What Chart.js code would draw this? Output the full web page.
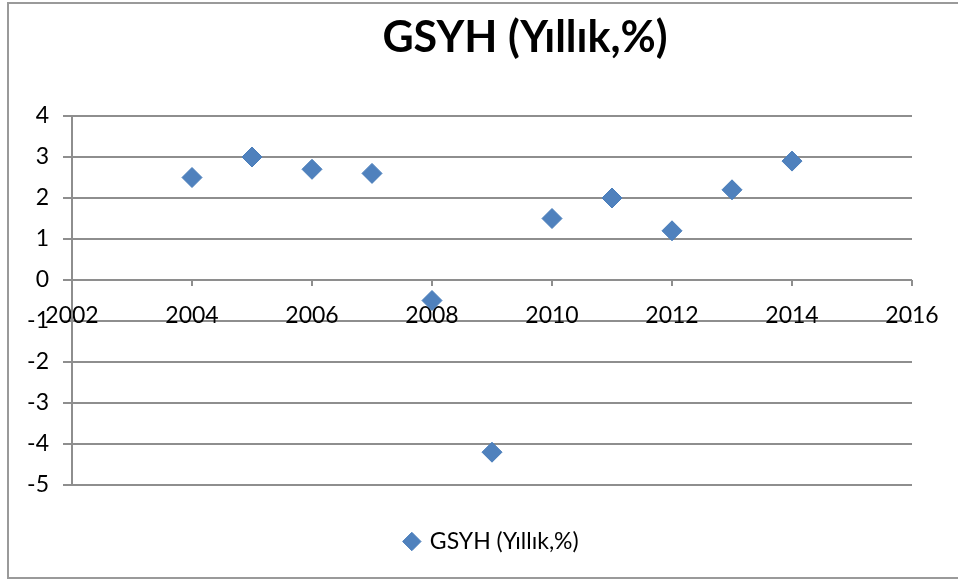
<!DOCTYPE html>
<html><head><meta charset="utf-8">
<script src="https://cdn.jsdelivr.net/npm/chart.js@4.4.1/dist/chart.umd.min.js"></script>
<style>html,body{margin:0;padding:0;background:#fff;}</style>
</head><body>
<canvas id="c" width="958" height="580"></canvas>
<script>
const chartTitle = 'GSYH (Yıllık,%)';
const seriesLabel = 'GSYH (Yıllık,%)';
const years = [2004, 2005, 2006, 2007, 2008, 2009, 2010, 2011, 2012, 2013, 2014];
const gdpGrowth = [2.5, 3.0, 2.7, 2.6, -0.5, -4.2, 1.5, 2.0, 1.2, 2.2, 2.9];
const xTickValues = [2002, 2004, 2006, 2008, 2010, 2012, 2014, 2016];
const yTickValues = [-5, -4, -3, -2, -1, 0, 1, 2, 3, 4];

const GRID = '#8e8e8e';
const FONT = 'Lato';

const framePlugin = {
  id: 'frameTitle',
  beforeDraw(chart) {
    const ctx = chart.ctx;
    ctx.save();
    ctx.fillStyle = '#fff';
    ctx.fillRect(0, 0, chart.width, chart.height);
    ctx.strokeStyle = '#9a9a9a';
    ctx.lineWidth = 2;
    ctx.strokeRect(8, 3, chart.width + 10, 575);
    ctx.restore();
  },
  afterDraw(chart) {
    const ctx = chart.ctx;
    ctx.save();
    ctx.fillStyle = '#000';
    ctx.font = 'bold 43px ' + FONT;
    ctx.textAlign = 'center';
    ctx.textBaseline = 'alphabetic';
    ctx.fillText(chartTitle, 525, 52);
    ctx.restore();
  }
};

new Chart(document.getElementById('c'), {
  type: 'scatter',
  data: {
    datasets: [{
      label: seriesLabel,
      data: years.map((y, i) => ({x: y, y: gdpGrowth[i]})),
      pointStyle: 'rectRot',
      pointRadius: 10,
      pointHoverRadius: 10,
      backgroundColor: '#4f81bd',
      borderColor: '#4a7ebb',
      borderWidth: 1
    }]
  },
  options: {
    responsive: false,
    animation: false,
    layout: { padding: { left: 0, right: 46, top: 116, bottom: 17 } },
    scales: {
      x: {
        type: 'linear',
        position: { y: 0 },
        min: 2002, max: 2016,
        afterBuildTicks(scale) { scale.ticks = xTickValues.map(v => ({value: v})); },
        ticks: {
          callback: v => String(v),
          color: '#000',
          font: { family: FONT, size: 23 },
          padding: 16,
          maxRotation: 0, autoSkip: false
        },
        grid: { drawOnChartArea: false, drawTicks: true, tickLength: 6, color: GRID, lineWidth: 2 },
        border: { display: false }
      },
      y: {
        type: 'linear',
        min: -5, max: 4,
        afterBuildTicks(scale) { scale.ticks = yTickValues.map(v => ({value: v})); },
        afterFit(scale) { scale.width = 72; },
        ticks: {
          callback: v => String(v),
          color: '#000',
          font: { family: FONT, size: 23 },
          padding: 14
        },
        grid: { color: GRID, lineWidth: 2, tickLength: 9, drawTicks: true },
        border: { display: true, color: GRID, width: 2 }
      }
    },
    plugins: {
      title: { display: false },
      tooltip: { enabled: false },
      legend: {
        display: true,
        position: 'bottom',
        fullSize: false,
        labels: {
          usePointStyle: true,
          boxWidth: 13, boxHeight: 13,
          padding: 45,
          color: '#000',
          font: { family: FONT, size: 23 }
        }
      }
    }
  },
  plugins: [framePlugin]
});
</script>
</body></html>
